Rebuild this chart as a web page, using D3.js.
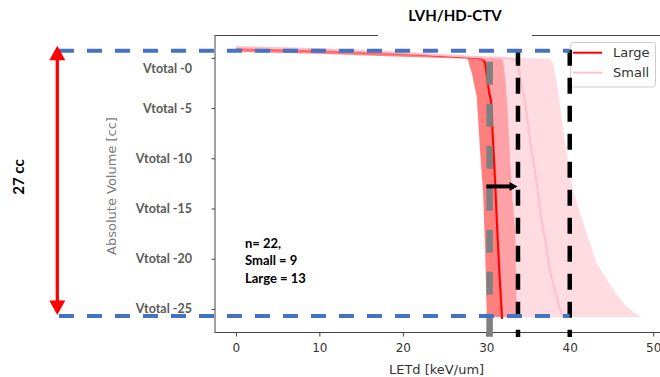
<!DOCTYPE html>
<html>
<head>
<meta charset="utf-8">
<script src="https://cdn.jsdelivr.net/npm/d3@7"></script>
<style>
  body { margin: 0; background: #fff; }
  svg { display: block; }
</style>
</head>
<body>
<svg id="chart" width="660" height="377"></svg>
<script>
// LETd-volume histograms for the LVH/HD-CTV structure, Large vs Small groups.

// Axis ticks
var xTicks = [0, 10, 20, 30, 40, 50];
var yTicks = [26, 21, 16, 11, 6, 1];                       // volume, cc
var yTickLabels = ["Vtotal -0", "Vtotal -5", "Vtotal -10", "Vtotal -15", "Vtotal -20", "Vtotal -25"];

// Legend entries
var groupLabels = ["Large", "Small"];
var groupColors = ["red", "#ffc0cb"];

// Series: [LETd keV/um, volume cc]
var largeMean = [[0, 26.9], [10, 26.7], [20, 26.4], [27, 26.1], [29.0, 25.98], [29.6, 25.85], [29.85, 25.5],
  [30.1, 24.0], [30.35, 22.5], [30.55, 21.8], [30.8, 17.8], [31.05, 13.8], [31.25, 9.9], [31.55, 4.9], [31.75, 2.0], [31.9, 0]];
var largeLower = [[0, 26.6], [10, 26.4], [20, 26.1], [26, 25.95], [27.6, 25.9], [27.8, 25.8], [28.26, 24.5],
  [28.86, 22.1], [29.25, 16.8], [29.6, 12.8], [29.85, 7.2], [30.05, 0.6], [30.1, 0.2]];
var largeUpper = [[0, 27.0], [10, 26.8], [20, 26.5], [27, 26.2], [31, 26.0], [31.8, 25.96], [32.04, 25.6],
  [32.3, 23.8], [32.53, 21.1], [33.05, 12.8], [33.45, 8.9], [33.6, 3.0], [33.65, 0.6], [33.7, 0.2]];

var smallMean = [[0, 27.05], [10, 26.85], [20, 26.5], [28, 26.1], [32, 25.98], [33.3, 25.9], [33.7, 25.6],
  [34.1, 24.0], [34.6, 21.8], [35.3, 17.5], [36.0, 13.8], [36.6, 9.9], [37.2, 7.2], [37.6, 4.9], [38.2, 2.9], [38.7, 1.4], [39.0, 0.6], [39.2, 0.2]];
var smallLower = [[0, 26.8], [10, 26.6], [20, 26.3], [27, 26.05], [29.2, 25.9], [29.9, 25.7], [30.05, 25.5],
  [30.3, 24.0], [30.55, 22.5], [30.75, 21.8], [31.0, 17.8], [31.25, 13.8], [31.45, 9.9], [31.75, 4.9], [31.95, 2.0], [32.05, 0.2]];
var smallUpper = [[0, 27.2], [8, 27.0], [16, 26.6], [24, 26.3], [28, 26.05], [36, 25.96], [37.6, 25.9], [38.0, 25.5],
  [38.3, 24.2], [38.6, 22.8], [39.4, 17.8], [40.4, 12.8], [41.6, 9.6], [43.2, 5.6], [45.2, 2.9], [46.8, 1.2], [48.4, 0.25], [48.7, 0.2]];

// Reference markers
var refLET = 30.4;                 // gray dashed marker
var thresholdLETs = [33.8, 40];    // black dashed markers
var shiftFrom = 30.0, shiftTo = 33.75, shiftVol = 13.2;
var totalVolume = 27;
var volumeGuides = [26.71, 0.3];   // blue dashed guides
var guideFromLET = -21.2, guideToLET = 40;
var braceLET = -21.4, braceTop = 27.2, braceBottom = 0.4;
var markerVolRange = [25.6, -1.8];
var thresholdVolRange = [26.8, -1.8];
var cohortText = ["n= 22,", "Small = 9", "Large = 13"];

var svg = d3.select("#chart");

var plot = { left: 215, right: 661, top: 35.5, bottom: 332.5 };
var x = d3.scaleLinear().domain([0, 50]).range([235.9, 653.2]);
var y = d3.scaleLinear().domain([0, totalVolume]).range([319, 47.8]);

var line = d3.line().x(function (d) { return x(d[0]); }).y(function (d) { return y(d[1]); });
function band(upper, lower) { return line(upper.concat(lower.slice().reverse())) + "Z"; }

// Frame
svg.append("rect")
  .attr("x", plot.left).attr("y", plot.top)
  .attr("width", plot.right - plot.left).attr("height", plot.bottom - plot.top)
  .attr("fill", "none").attr("stroke", "#444").attr("stroke-width", 1);

// Large group: spread band and mean
svg.append("path").attr("d", band(largeUpper, largeLower))
  .attr("fill", "red").attr("fill-opacity", 0.5);
svg.append("path").attr("d", line(largeMean))
  .attr("fill", "none").attr("stroke", "red").attr("stroke-width", 2);

// Small group: spread band and mean
svg.append("path").attr("d", band(smallUpper, smallLower))
  .attr("fill", "pink").attr("fill-opacity", 0.55);
svg.append("path").attr("d", line(smallMean))
  .attr("fill", "none").attr("stroke", "#ffc0cb").attr("stroke-width", 2);

// X axis
var xAxis = svg.append("g")
  .attr("transform", "translate(0," + plot.bottom + ")")
  .call(d3.axisBottom(x).tickValues(xTicks).tickSize(4).tickPadding(7).tickFormat(d3.format("d")));
xAxis.select(".domain").remove();
xAxis.selectAll("line").attr("stroke", "#444");
xAxis.selectAll("text").attr("font-family", "DejaVu Sans").attr("font-size", 12).attr("fill", "#333");

// Y axis
var yAxis = svg.append("g")
  .attr("transform", "translate(" + plot.left + ",0)")
  .call(d3.axisLeft(y).tickValues(yTicks).tickSize(3.5).tickPadding(19.5)
    .tickFormat(function (d, i) { return yTickLabels[i]; }));
yAxis.select(".domain").remove();
yAxis.selectAll("line").attr("stroke", "#444");
yAxis.selectAll("text")
  .attr("font-family", "Lato").attr("font-weight", "bold").attr("font-size", 12.5).attr("fill", "#595959")
  .attr("dy", function (d) { return d === 26 ? "1.2em" : "0.32em"; });

// Axis titles
svg.append("text")
  .attr("x", (x(0) + x(50)) / 2 - 8).attr("y", 373.5)
  .attr("text-anchor", "middle")
  .attr("font-family", "DejaVu Sans").attr("font-size", 13).attr("fill", "#333")
  .text("LETd [keV/um]");
svg.append("text")
  .attr("transform", "translate(115.5,186) rotate(-90)")
  .attr("text-anchor", "middle")
  .attr("font-family", "DejaVu Sans").attr("font-size", 13).attr("fill", "#7a7a7a")
  .text("Absolute Volume [cc]");

// Legend
var legend = svg.append("g");
legend.append("rect")
  .attr("x", 570.5).attr("y", 42.5).attr("width", 85).attr("height", 44.5).attr("rx", 3)
  .attr("fill", "#fff").attr("fill-opacity", 0.8).attr("stroke", "#ccc");
groupLabels.forEach(function (label, i) {
  var ly = 52.7 + i * 20;
  legend.append("line").attr("x1", 573).attr("x2", 602).attr("y1", ly).attr("y2", ly)
    .attr("stroke", groupColors[i]).attr("stroke-width", 2);
  legend.append("text").attr("x", 613).attr("y", ly + 4.7)
    .attr("font-family", "DejaVu Sans").attr("font-size", 13).attr("fill", "#333").text(label);
});

// Reference markers
svg.append("line")
  .attr("x1", x(refLET)).attr("x2", x(refLET))
  .attr("y1", y(markerVolRange[0])).attr("y2", y(markerVolRange[1]))
  .attr("stroke", "#808080").attr("stroke-width", 6.5).attr("stroke-dasharray", "23,19");
thresholdLETs.forEach(function (t) {
  svg.append("line")
    .attr("x1", x(t)).attr("x2", x(t))
    .attr("y1", y(thresholdVolRange[0])).attr("y2", y(thresholdVolRange[1]))
    .attr("stroke", "#000").attr("stroke-width", 4.5).attr("stroke-dasharray", "16,12");
});

// Volume guides
volumeGuides.forEach(function (v) {
  svg.append("line")
    .attr("x1", x(guideFromLET)).attr("x2", x(guideToLET))
    .attr("y1", y(v)).attr("y2", y(v))
    .attr("stroke", "#4472c4").attr("stroke-width", 4).attr("stroke-dasharray", "15,13");
});

// Shift arrow
(function () {
  var x0 = x(shiftFrom), x1 = x(shiftTo), yy = y(shiftVol);
  svg.append("line").attr("x1", x0).attr("x2", x1 - 6).attr("y1", yy).attr("y2", yy)
    .attr("stroke", "#000").attr("stroke-width", 4);
  svg.append("path").attr("d", "M" + x1 + "," + yy + "L" + (x1 - 8) + "," + (yy - 4.5) + "L" + (x1 - 8) + "," + (yy + 4.5) + "Z")
    .attr("fill", "#000");
})();

// Total-volume brace
(function () {
  var bx = x(braceLET), t = y(braceTop), b = y(braceBottom), hl = 14.5, hw = 8;
  svg.append("line").attr("x1", bx).attr("x2", bx).attr("y1", t + hl - 1).attr("y2", b - hl + 1)
    .attr("stroke", "red").attr("stroke-width", 3.3);
  svg.append("path").attr("d", "M" + bx + "," + t + "L" + (bx - hw) + "," + (t + hl) + "L" + (bx + hw) + "," + (t + hl) + "Z")
    .attr("fill", "red");
  svg.append("path").attr("d", "M" + bx + "," + b + "L" + (bx - hw) + "," + (b - hl) + "L" + (bx + hw) + "," + (b - hl) + "Z")
    .attr("fill", "red");
})();
svg.append("text")
  .attr("transform", "translate(23.5,177) rotate(-90)")
  .attr("text-anchor", "middle")
  .attr("font-family", "Lato").attr("font-weight", "bold").attr("font-size", 15).attr("fill", "#000")
  .text(totalVolume + " cc");

// Cohort note
cohortText.forEach(function (t, i) {
  svg.append("text").attr("x", 245).attr("y", 247.5 + i * 17.5)
    .attr("font-family", "Lato").attr("font-weight", "bold").attr("font-size", 13).attr("fill", "#000")
    .text(t);
});

// Title
svg.append("rect").attr("x", 378).attr("y", 0).attr("width", 154).attr("height", 38).attr("fill", "#fff");
svg.append("text")
  .attr("x", 455).attr("y", 20.5)
  .attr("text-anchor", "middle")
  .attr("font-family", "Lato").attr("font-weight", "bold").attr("font-size", 15).attr("fill", "#000")
  .text("LVH/HD-CTV");
</script>
</body>
</html>
